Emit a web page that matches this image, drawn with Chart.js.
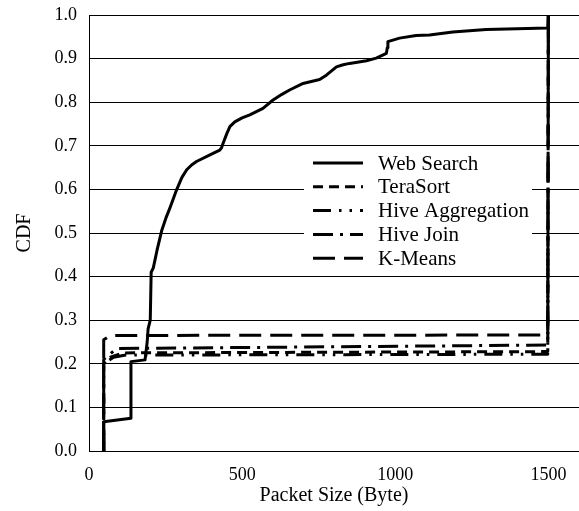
<!DOCTYPE html>
<html>
<head>
<meta charset="utf-8">
<script src="https://cdn.jsdelivr.net/npm/chart.js"></script>
<style>
  html, body { margin: 0; padding: 0; background: #fff; }
  #wrap { width: 579px; height: 511px; }
</style>
</head>
<body>
<div id="wrap"><canvas id="cdf"></canvas></div>
<script>
// series names (legend order)
const seriesNames = ['Web Search', 'TeraSort', 'Hive Aggregation', 'Hive Join', 'K-Means'];

// packet size (byte) / CDF
const webSearchSize = [48, 48, 137, 137, 183, 190, 193, 200, 203, 210, 222, 238, 251, 264, 286, 303, 319, 335, 351, 395, 427, 433, 438, 450, 460, 476, 500, 525, 568, 601, 630, 655, 699, 753, 775, 808, 830, 851, 906, 938, 971, 974, 976, 1014, 1068, 1112, 1188, 1297, 1498, 1500];
const webSearchCdf  = [0, 0.067, 0.075, 0.205, 0.209, 0.25, 0.28, 0.30, 0.41, 0.42, 0.46, 0.507, 0.534, 0.557, 0.599, 0.627, 0.645, 0.656, 0.664, 0.679, 0.69, 0.696, 0.706, 0.728, 0.744, 0.755, 0.764, 0.771, 0.786, 0.805, 0.818, 0.828, 0.843, 0.852, 0.862, 0.881, 0.886, 0.889, 0.895, 0.901, 0.912, 0.925, 0.939, 0.947, 0.953, 0.954, 0.961, 0.967, 0.970, 1.0];

const teraSortSize = [48, 48, 70, 110, 1498, 1500];
const teraSortCdf  = [0, 0.2, 0.215, 0.225, 0.228, 1.0];

const hiveAggSize = [48, 48, 80, 120, 1498, 1500];
const hiveAggCdf  = [0, 0.2, 0.215, 0.22, 0.222, 1.0];

const hiveJoinSize = [48, 48, 90, 1498, 1500];
const hiveJoinCdf  = [0, 0.21, 0.235, 0.243, 1.0];

const kMeansSize = [48, 48, 70, 1498, 1500];
const kMeansCdf  = [0, 0.255, 0.265, 0.266, 1.0];

const xTickValues = [0, 500, 1000, 1500];
const yTickValues = [0, 0.1, 0.2, 0.3, 0.4, 0.5, 0.6, 0.7, 0.8, 0.9, 1.0];

const toPoints = (xs, ys) => xs.map((x, i) => ({ x: x, y: ys[i] }));

const serif = '"Liberation Serif", "Times New Roman", serif';

// legend drawn inside the plot, on a white box
const insideLegend = {
  id: 'insideLegend',
  afterDatasetsDraw(chart) {
    const ctx = chart.ctx;
    ctx.save();
    ctx.fillStyle = '#fff';
    ctx.fillRect(304, 150, 228, 124);
    ctx.font = '21px ' + serif;
    ctx.textBaseline = 'middle';
    ctx.textAlign = 'left';
    chart.data.datasets.forEach((ds, i) => {
      const y = 163 + i * 23.8;
      ctx.beginPath();
      ctx.setLineDash(ds.borderDash || []);
      ctx.lineWidth = ds.borderWidth;
      ctx.strokeStyle = '#000';
      ctx.moveTo(313, y);
      ctx.lineTo(363, y);
      ctx.stroke();
      ctx.setLineDash([]);
      ctx.fillStyle = '#000';
      ctx.fillText(ds.label, 378, y + 1);
    });
    ctx.restore();
  }
};

const lineStyles = [
  [],
  [10, 6],
  [18, 8, 2.5, 8, 2.5, 8],
  [20, 7, 3, 7],
  [22, 9]
];

const seriesData = [
  toPoints(webSearchSize, webSearchCdf),
  toPoints(teraSortSize, teraSortCdf),
  toPoints(hiveAggSize, hiveAggCdf),
  toPoints(hiveJoinSize, hiveJoinCdf),
  toPoints(kMeansSize, kMeansCdf)
];

new Chart(document.getElementById('cdf'), {
  type: 'line',
  data: {
    datasets: seriesNames.map((name, i) => ({
      label: name,
      data: seriesData[i],
      borderColor: '#000',
      borderWidth: 3,
      borderDash: lineStyles[i],
      borderJoinStyle: 'round',
      pointRadius: 0,
      tension: 0,
      fill: false
    }))
  },
  options: {
    responsive: true,
    maintainAspectRatio: false,
    animation: false,
    devicePixelRatio: 1,
    layout: { padding: { top: 15, right: 0, left: 0, bottom: 0 } },
    plugins: {
      legend: { display: false },
      tooltip: { enabled: false }
    },
    scales: {
      x: {
        type: 'linear',
        min: 0,
        max: 1600,
        afterBuildTicks: s => { s.ticks = xTickValues.map(v => ({ value: v })); },
        afterFit: s => { s.height = 60; s.paddingLeft = 0; s.paddingRight = 0; },
        grid: { display: false },
        border: { display: true, color: '#000', width: 1 },
        ticks: { color: '#000', font: { family: serif, size: 18 }, padding: 5, maxRotation: 0, callback: v => String(v) },
        title: { display: true, text: 'Packet Size (Byte)', color: '#000', font: { family: serif, size: 20 }, padding: { top: 0, bottom: 3 } }
      },
      y: {
        min: 0,
        max: 1,
        afterBuildTicks: s => { s.ticks = yTickValues.map(v => ({ value: v })); },
        afterFit: s => { s.width = 89; s.paddingTop = 0; s.paddingBottom = 0; },
        grid: { color: '#000', lineWidth: 1, drawTicks: false },
        border: { display: true, color: '#000', width: 1 },
        ticks: { color: '#000', font: { family: serif, size: 18 }, padding: 12, callback: v => v.toFixed(1) },
        title: { display: true, text: 'CDF', color: '#000', font: { family: serif, size: 20 }, padding: { top: 13, bottom: 0 } }
      }
    }
  },
  plugins: [insideLegend]
});
</script>
</body>
</html>
